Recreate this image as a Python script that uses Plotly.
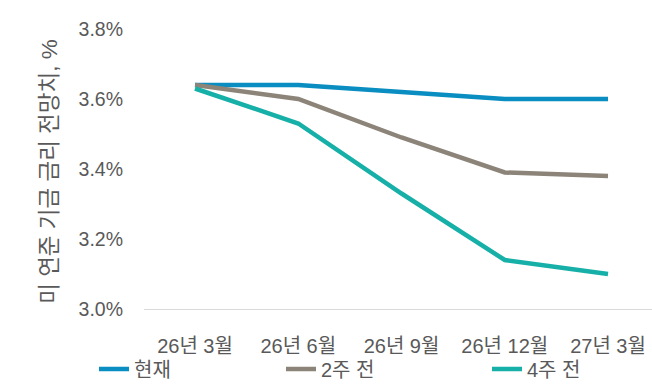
import plotly.graph_objects as go

categories = ["26년 3월", "26년 6월", "26년 9월", "26년 12월", "27년 3월"]
current = [3.64, 3.64, 3.62, 3.60, 3.60]
two_weeks_ago = [3.64, 3.60, 3.49, 3.39, 3.38]
four_weeks_ago = [3.63, 3.53, 3.33, 3.14, 3.10]
series_names = ["현재", "2주 전", "4주 전"]
colors = ["#0A8DC1", "#8C8478", "#16B0A8"]
y_ticks = [3.0, 3.2, 3.4, 3.6, 3.8]
y_title = "미 연준 기금 금리 전망치, %"

FONT = "Arial, 'Liberation Sans', 'Noto Sans CJK KR', sans-serif"
W, H = 652, 387

legend_ids = ["legend", "legend2", "legend3"]
legend_x_px = [94, 281, 487]

fig = go.Figure()
for name, vals, col, lid in zip(series_names, [current, two_weeks_ago, four_weeks_ago], colors, legend_ids):
    fig.add_trace(go.Scatter(
        x=list(range(len(categories))), y=vals, name=name, mode="lines",
        line=dict(color=col, width=4.5), legend=lid,
    ))

legend_common = dict(
    orientation="h", xref="container", yref="container",
    xanchor="left", yanchor="middle",
    font=dict(family=FONT, size=20, color="#595959"),
    bgcolor="rgba(0,0,0,0)", borderwidth=0,
)
legends = {}
for lid, px in zip(legend_ids, legend_x_px):
    legends[lid] = dict(legend_common, x=px / W, y=1 - 369 / H)

fig.update_layout(
    width=W, height=H,
    margin=dict(l=144, r=0, t=29, b=78, autoexpand=False),
    paper_bgcolor="white", plot_bgcolor="white",
    font=dict(family=FONT, size=19, color="#595959"),
    showlegend=True,
    xaxis=dict(
        range=[-0.494, 4.426], automargin=False,
        tickmode="array", tickvals=list(range(len(categories))), ticktext=categories,
        showgrid=False, zeroline=False,
        showline=True, linecolor="#D9D9D9", linewidth=1,
        ticks="", ticklabelstandoff=19,
        tickfont=dict(family=FONT, size=20, color="#595959"),
    ),
    yaxis=dict(
        range=[3.0, 3.8], automargin=False,
        tickmode="array", tickvals=y_ticks,
        ticktext=[f"{v:.1f}%" for v in y_ticks],
        showgrid=False, zeroline=False, showline=False,
        ticks="", ticklabelstandoff=20,
        tickfont=dict(family=FONT, size=19.5, color="#595959"),
    ),
    annotations=[dict(
        text=y_title, textangle=-90, xref="paper", yref="paper",
        x=(50 - 144) / 508, y=0.49, xanchor="center", yanchor="middle",
        showarrow=False, font=dict(family=FONT, size=22.5, color="#595959"),
    )],
    **legends,
)

fig.write_html("out.html")
